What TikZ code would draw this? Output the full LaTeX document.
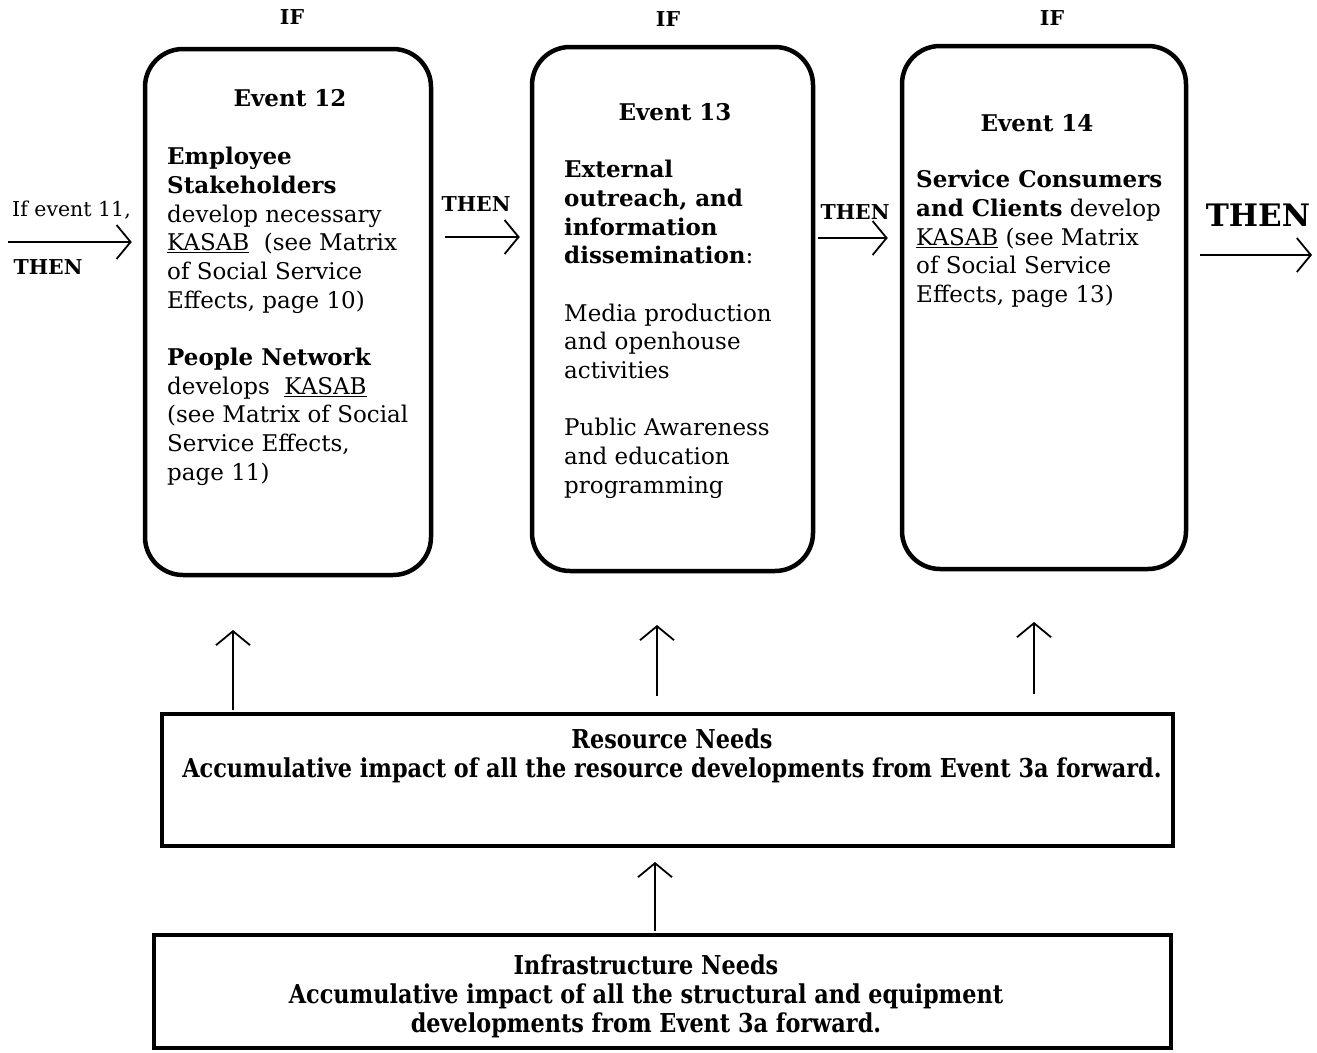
\documentclass[tikz,border=0pt]{standalone}
\usepackage{fontspec}
\setmainfont{DejaVu Serif}
\newfontfamily\condfont[FakeStretch=0.86]{DejaVu Serif}
\usetikzlibrary{arrows.meta,calc}
\begin{document}
\begin{tikzpicture}[x=1pt,y=-1pt,
  evbox/.style={draw,line width=4.5pt,rounded corners=38pt,inner sep=0pt},
  needbox/.style={draw,line width=4pt,inner sep=0pt},
  flow/.style={line width=1.8pt,-{Straight Barb[length=14pt,width=34pt,line width=1.8pt]}},
  body/.style={anchor=north west,inner sep=0pt,align=left,
    font=\fontsize{23}{28.7}\selectfont},
  evtitle/.style={anchor=base,inner sep=0pt,font=\fontsize{23}{26}\selectfont\bfseries},
  kw/.style={anchor=base,inner sep=0pt,font=\fontsize{20.5}{24}\selectfont\bfseries},
  needtext/.style={anchor=north,inner sep=0pt,align=center,
    font=\fontsize{26}{29}\selectfont\condfont\bfseries}]
\useasboundingbox (0,0) rectangle (1317,1052);

% event boxes
\node[evbox,minimum width=286pt,minimum height=526pt] (ev12) at (288,312) {};
\node[evbox,minimum width=281pt,minimum height=524pt] (ev13) at (672.5,309) {};
\node[evbox,minimum width=284pt,minimum height=523pt] (ev14) at (1044,307.5) {};

% need boxes
\node[needbox,minimum width=1011pt,minimum height=132pt] (res) at (667.5,780) {};
\node[needbox,minimum width=1017pt,minimum height=113pt] (infra) at (662.5,991.5) {};

% IF labels
\node[kw] (if12) at (292,24) {IF};
\node[kw] (if13) at (668,27) {IF};
\node[kw] (if14) at (1052,25) {IF};

% event 12
\node[evtitle] (t12) at (290,106) {Event 12};
\node[body] (b12) at (167,147) {\textbf{Employee}\\
\textbf{Stakeholders}\\
develop necessary\\
\underline{KASAB}\ \ (see Matrix\\
of Social Service\\
Effects, page 10)\\[28.7pt]
\textbf{People Network}\\
develops\ \ \underline{KASAB}\\
(see Matrix of Social\\
Service Effects,\\
page 11)};

% event 13
\node[evtitle] (t13) at (675,120) {Event 13};
\node[body] (b13) at (564,160) {\textbf{External}\\
\textbf{outreach, and}\\
\textbf{information}\\
\textbf{dissemination}:\\[28.7pt]
Media production\\
and openhouse\\
activities\\[28.7pt]
Public Awareness\\
and education\\
programming};

% event 14
\node[evtitle] (t14) at (1037,131) {Event 14};
\node[body] (b14) at (916,170) {\textbf{Service Consumers}\\
\textbf{and Clients} develop\\
\underline{KASAB} (see Matrix\\
of Social Service\\
Effects, page 13)};

% flow along the top row
\node[anchor=base west,inner sep=0pt,font=\fontsize{20.5}{24}\selectfont] (in11) at (12,216) {If event 11,};
\node[kw] (then0) at (48,274) {THEN};
\coordinate (a0) at (8,242);
\draw[flow,shorten >=11pt] (a0) -- (a0 -| ev12.west);

\node[kw] (then1) at (476,211) {THEN};
\coordinate (a1) at (445,237);
\draw[flow] (a1) -- ($(a1 -| ev13.west)+(-10,0)$);

\node[kw] (then2) at (855,219) {THEN};
\coordinate (a2) at (818,238);
\draw[flow] (a2) -- ($(a2 -| ev14.west)+(-12,0)$);

\node[anchor=base,inner sep=0pt,font=\fontsize{31}{36}\selectfont\bfseries] (then3) at (1258,226) {THEN};
\coordinate (a3) at (1200,255);
\coordinate (a3e) at (1312,255);
\draw[flow] (a3) -- (a3e);

% resource needs
\node[needtext] (rt) at (672,729) {Resource Needs\\
Accumulative impact of all the resource developments from Event 3a forward.};

% infrastructure needs
\node[needtext] (it) at (646,955) {Infrastructure Needs\\
Accumulative impact of all the structural and equipment\\
developments from Event 3a forward.};

% upward arrows
\coordinate (u12) at (233,630);
\coordinate (u13) at (657,625);
\coordinate (u14) at (1034,622);
\coordinate (ur) at (655,862);
\draw[flow] ($(res.north -| u12)+(0,-2)$) -- (u12);
\draw[flow] ($(res.north -| u13)+(0,-16)$) -- (u13);
\draw[flow] ($(res.north -| u14)+(0,-18)$) -- (u14);
\draw[flow] ($(infra.north -| ur)+(0,-2)$) -- (ur);
\end{tikzpicture}
\end{document}
